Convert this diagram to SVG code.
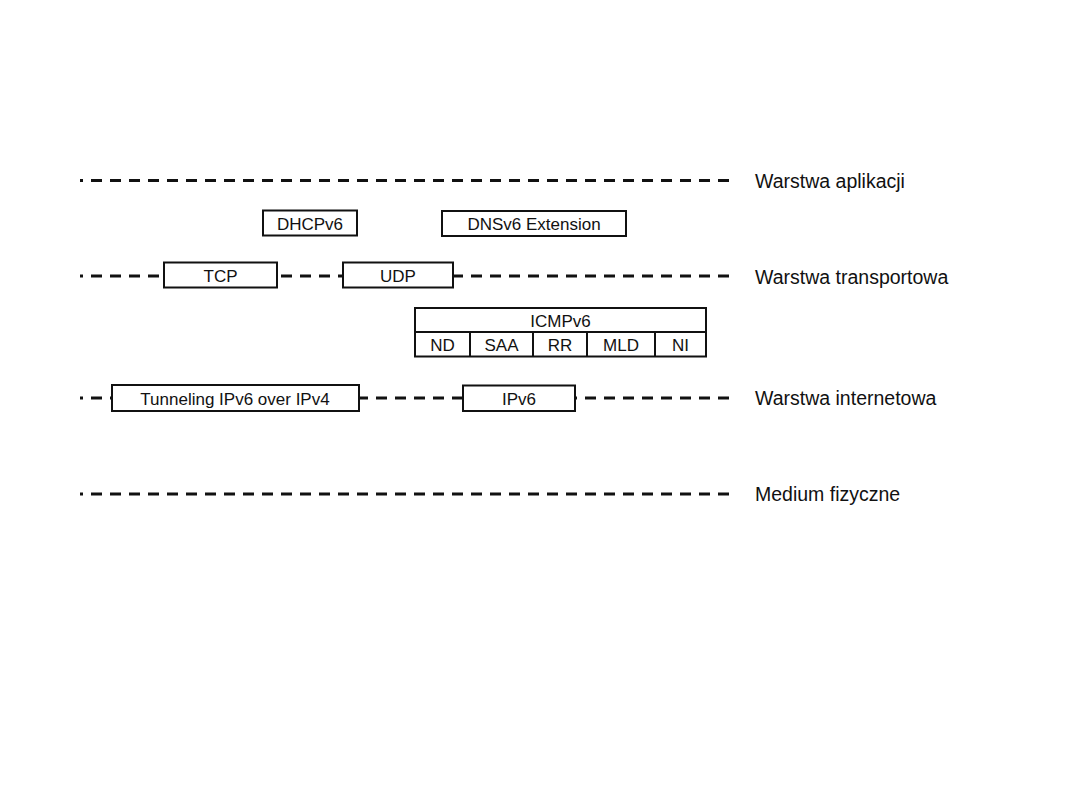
<svg xmlns="http://www.w3.org/2000/svg" width="1080" height="810" viewBox="0 0 1080 810">
<style>
.layer{stroke:#111;stroke-width:3;stroke-dasharray:11 8;fill:none}
.dot{stroke:#111;stroke-width:3;fill:none}
.box{fill:#fff;stroke:#111;stroke-width:2}
.sep{stroke:#111;stroke-width:2}
.t{font-family:"Liberation Sans",Arial,sans-serif;font-size:17px;fill:#111;text-anchor:middle}
.lbl{font-family:"Liberation Sans",Arial,sans-serif;font-size:19.5px;fill:#111}
</style>
<rect width="1080" height="810" fill="#fff"/>
<g id="connectors">
<line class="dot" x1="80" y1="180.5" x2="83" y2="180.5"/>
<line class="layer" x1="91" y1="180.5" x2="729" y2="180.5"/>
<line class="dot" x1="80" y1="276" x2="83" y2="276"/>
<line class="layer" x1="91" y1="276" x2="729" y2="276"/>
<line class="dot" x1="80" y1="398" x2="83" y2="398"/>
<line class="layer" x1="91" y1="398" x2="729" y2="398"/>
<line class="dot" x1="80" y1="494" x2="83" y2="494"/>
<line class="layer" x1="91" y1="494" x2="729" y2="494"/>
</g>
<g id="dhcpv6"><rect class="box" x="263" y="210.5" width="94" height="25"/><text class="t" x="310" y="230">DHCPv6</text></g>
<g id="dnsv6"><rect class="box" x="442" y="211" width="184" height="25"/><text class="t" x="534" y="230">DNSv6 Extension</text></g>
<g id="tcp"><rect class="box" x="164" y="262.5" width="113" height="25"/><text class="t" x="220.5" y="282">TCP</text></g>
<g id="udp"><rect class="box" x="343" y="262.5" width="110" height="25"/><text class="t" x="398" y="282">UDP</text></g>
<g id="icmpv6">
<rect class="box" x="415" y="308" width="291" height="48.5"/>
<line class="sep" x1="415" y1="332" x2="706" y2="332"/>
<line class="sep" x1="470" y1="332" x2="470" y2="356.5"/>
<line class="sep" x1="533" y1="332" x2="533" y2="356.5"/>
<line class="sep" x1="587" y1="332" x2="587" y2="356.5"/>
<line class="sep" x1="655" y1="332" x2="655" y2="356.5"/>
<text class="t" x="560.5" y="326.5">ICMPv6</text>
<text class="t" x="442.5" y="350.5">ND</text>
<text class="t" x="501.5" y="350.5">SAA</text>
<text class="t" x="560" y="350.5">RR</text>
<text class="t" x="621" y="350.5">MLD</text>
<text class="t" x="680.5" y="350.5">NI</text>
</g>
<g id="tunneling"><rect class="box" x="112" y="385" width="247" height="26"/><text class="t" x="235" y="405">Tunneling IPv6 over IPv4</text></g>
<g id="ipv6"><rect class="box" x="463" y="385.5" width="112" height="25.5"/><text class="t" x="519" y="405">IPv6</text></g>
<g id="labels">
<text class="lbl" x="755" y="188">Warstwa aplikacji</text>
<text class="lbl" x="755" y="283.5">Warstwa transportowa</text>
<text class="lbl" x="755" y="405">Warstwa internetowa</text>
<text class="lbl" x="755" y="501">Medium fizyczne</text>
</g>
</svg>
